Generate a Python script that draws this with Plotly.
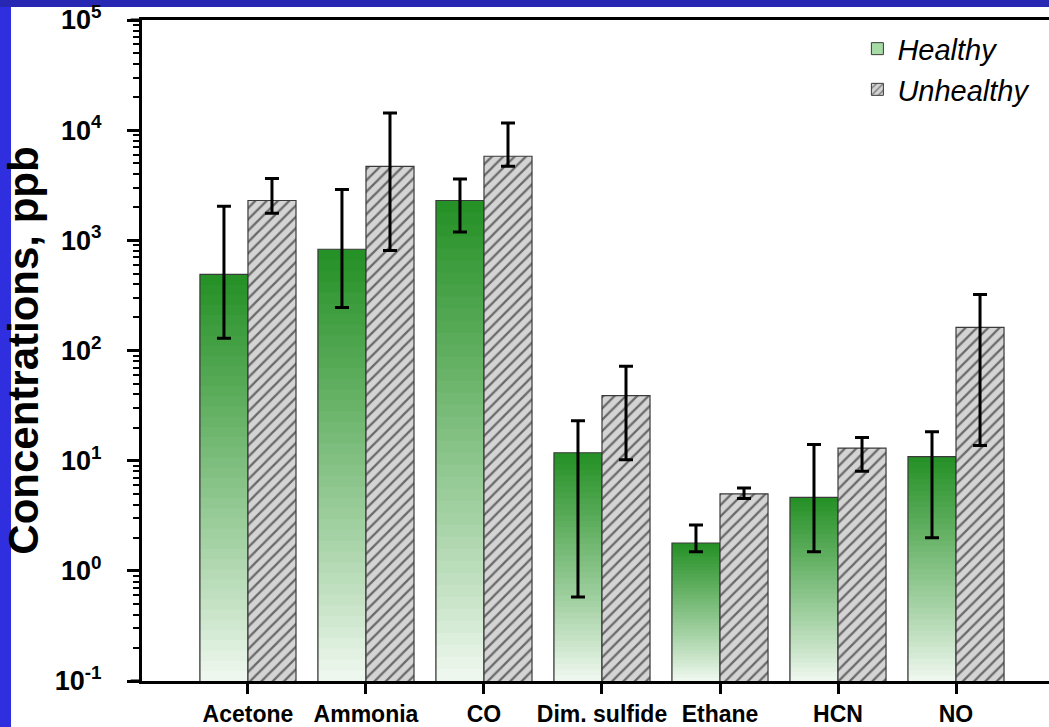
import numpy as np
import plotly.graph_objects as go

categories = ["Acetone", "Ammonia", "CO", "Dim. sulfide", "Ethane", "HCN", "NO"]
healthy = [490, 830, 2300, 11.8, 1.79, 4.64, 10.9]
healthy_hi = [2040, 2900, 3600, 23, 2.6, 14, 18.3]
healthy_lo = [129, 246, 1190, 0.58, 1.49, 1.49, 2.0]
unhealthy = [2300, 4700, 5800, 39, 5.0, 13, 162]
unhealthy_hi = [3650, 14300, 11600, 72, 5.65, 16.2, 323]
unhealthy_lo = [1760, 810, 4700, 10.2, 4.54, 8.0, 13.7]
series_names = ["Healthy", "Unhealthy"]
y_exponents = [-1, 0, 1, 2, 3, 4, 5]
y_tickvals = [10.0 ** e for e in y_exponents]
y_ticktext = ["10<sup>%d</sup>" % e for e in y_exponents]

FONT = "Liberation Sans, Arial, sans-serif"
BW = 0.407
LOG_MIN = -1
N_SEG = 40
top_rgb = np.array([38, 145, 38])
bot_rgb = np.array([246, 251, 246])

fig = go.Figure()

# gradient fill for healthy bars (drawn tallest/darkest first)
hv = np.log10(np.array(healthy, dtype=float))
for k in range(N_SEG, 0, -1):
    t = k / N_SEG
    c = bot_rgb + (top_rgb - bot_rgb) * (t ** 0.9)
    col = "rgb(%d,%d,%d)" % tuple(c.round().astype(int))
    ys = 10 ** (LOG_MIN + t * (hv - LOG_MIN))
    fig.add_trace(go.Bar(
        x=categories, y=ys, offset=-BW, width=BW,
        marker=dict(color=col, line=dict(width=0)),
        showlegend=False, hoverinfo="skip"))

# outline + error bars for healthy
fig.add_trace(go.Bar(
    x=categories, y=healthy, offset=-BW, width=BW,
    marker=dict(color="rgba(0,0,0,0)", line=dict(color="#3a3a3a", width=1.2)),
    error_y=dict(type="data", symmetric=False,
                 array=[h - v for h, v in zip(healthy_hi, healthy)],
                 arrayminus=[v - l for l, v in zip(healthy_lo, healthy)],
                 color="black", thickness=3, width=7),
    showlegend=False, name=series_names[0]))

# unhealthy hatched bars
fig.add_trace(go.Bar(
    x=categories, y=unhealthy, offset=0, width=BW,
    marker=dict(color="#d4d4d4", line=dict(color="#3a3a3a", width=1.2),
                pattern=dict(shape="/", fgcolor="black", bgcolor="#d4d4d4",
                             size=8, solidity=0.28)),
    error_y=dict(type="data", symmetric=False,
                 array=[h - v for h, v in zip(unhealthy_hi, unhealthy)],
                 arrayminus=[v - l for l, v in zip(unhealthy_lo, unhealthy)],
                 color="black", thickness=3, width=7),
    name=series_names[1], showlegend=False))

# legend-only entries
fig.add_trace(go.Bar(x=[categories[0]], y=[None], name=series_names[0],
                     marker=dict(color="#a6dba6", line=dict(color="#3a3a3a", width=1))))
fig.add_trace(go.Bar(x=[categories[0]], y=[None], name=series_names[1],
                     marker=dict(color="#d4d4d4", line=dict(color="#3a3a3a", width=1),
                                 pattern=dict(shape="/", fgcolor="black", bgcolor="#d4d4d4",
                                              size=6, solidity=0.25))))

fig.update_layout(
    width=1049, height=727,
    margin=dict(l=142, r=0, t=20, b=46, autoexpand=False),
    paper_bgcolor="#2f2fe0",
    plot_bgcolor="white",
    barmode="overlay",
    font=dict(family=FONT, color="black"),
    legend=dict(x=0.985, y=0.995, xanchor="right", yanchor="top",
                bgcolor="rgba(0,0,0,0)", itemwidth=30,
                font=dict(family=FONT, size=29, style="italic", color="black"),
                traceorder="normal"),
    shapes=[
        dict(type="rect", xref="paper", yref="paper", x0=-0.1444, x1=1.02,
             y0=-0.1, y1=1.0197, fillcolor="white", line=dict(width=0), layer="below"),
        dict(type="rect", xref="paper", yref="paper", x0=-0.2, x1=1.02,
             y0=1.0197, y1=1.06, fillcolor="#2727b4", line=dict(width=0), layer="below"),
        dict(type="line", xref="paper", yref="paper", x0=-0.0125, x1=0, y0=0, y1=0,
             line=dict(color="black", width=3)),
        dict(type="line", xref="paper", yref="paper", x0=-0.0125, x1=0, y0=1, y1=1,
             line=dict(color="black", width=3)),
    ],
)

fig.update_xaxes(
    range=[-0.898, 6.788], automargin=False,
    showline=True, linecolor="black", linewidth=3, mirror=True,
    ticks="outside", ticklen=10, tickwidth=2.5, tickcolor="black",
    tickfont=dict(family=FONT, size=23, weight="bold", color="black"),
    ticklabelstandoff=0,
    showgrid=False, zeroline=False,
)

fig.update_yaxes(
    type="log", range=[-1, 5], automargin=False,
    tickmode="array", tickvals=y_tickvals, ticktext=y_ticktext,
    showline=True, linecolor="black", linewidth=3,
    ticks="outside", ticklen=12, tickwidth=2.5, tickcolor="black",
    minor=dict(ticks="outside", ticklen=6, tickwidth=1.5, tickcolor="black",
               showgrid=False, tickmode="array",
               tickvals=[m * 10.0 ** e for e in y_exponents[:-1] for m in range(2, 10)]),
    tickfont=dict(family=FONT, size=27, weight="bold", color="black"),
    ticklabelstandoff=20,
    showgrid=False, zeroline=False,
    title=dict(text="Concentrations, ppb", standoff=6,
               font=dict(family=FONT, size=42, weight="bold", color="black")),
)

fig.write_html("out.html", config={"displayModeBar": False},
               post_script="document.body.style.margin='0px';document.body.style.overflow='hidden';")
